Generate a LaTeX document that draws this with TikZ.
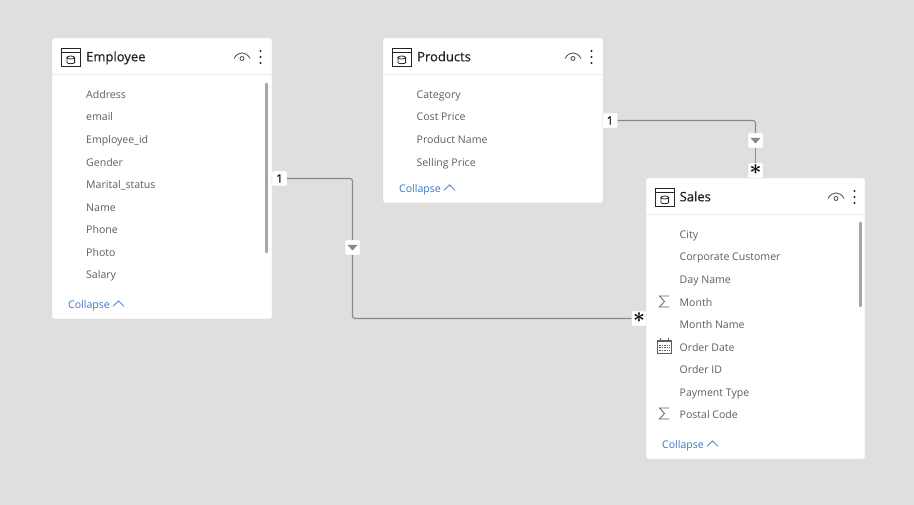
\documentclass[tikz,border=0pt]{standalone}
\usepackage{fontspec}
\setmainfont{Open Sans}
\newfontfamily\titlefont{Open Sans}[RawFeature={embolden=0.5}]
\newfontfamily\markfont{Open Sans}[RawFeature={embolden=0.4}]
\definecolor{pagebg}{HTML}{E1DFDD}
\definecolor{cardedge}{HTML}{D9D7D5}
\definecolor{sepline}{HTML}{EDEBE9}
\definecolor{fieldtxt}{HTML}{605E5C}
\definecolor{titletxt}{HTML}{252423}
\definecolor{linkblue}{HTML}{3A76C9}
\definecolor{relline}{HTML}{8A8886}
\definecolor{scrollc}{HTML}{A8A6A4}
\tikzset{
  x=1pt,y=-1pt,
  card/.style={draw=cardedge,line width=.4pt,fill=white,rounded corners=1.5pt},
  titletext/.style={anchor=base west,inner sep=0,text=titletxt,font=\titlefont\fontsize{13}{15}\selectfont},
  fieldtext/.style={anchor=base west,inner sep=0,text=fieldtxt,font=\fontsize{10.55}{13}\selectfont},
  linktext/.style={anchor=base west,inner sep=0,text=linkblue,font=\fontsize{10.55}{13}\selectfont},
  relbox/.style={fill=white,draw=cardedge,line width=.3pt,rounded corners=1pt,minimum width=15pt,minimum height=15pt,inner sep=0,font=\markfont\fontsize{11.5}{12}\selectfont,text=black},
  starmark/.style={font=\fontsize{21}{21}\selectfont\boldmath},
  rel/.style={draw=relline,line width=1.1pt,rounded corners=2.5pt},
  iconline/.style={draw=titletxt,line width=.9pt},
  grayicon/.style={draw=fieldtxt,line width=.8pt},
  scrollbar/.style={draw=scrollc,line width=3pt,line cap=round},
}
% #1 prefix, #2 left, #3 top, #4 width, #5 height, #6 title, #7 field offset
\newcommand{\tablecard}[7]{%
  \draw[card] (#2,#3) rectangle (#2+#4,#3+#5);
  \draw[sepline,line width=.8pt] (#2,#3+36.5) -- (#2+#4,#3+36.5);
  % table icon
  \draw[iconline] (#2+9.5,#3+10.5) rectangle (#2+28,#3+28);
  \draw[iconline] (#2+9.5,#3+14.5) -- (#2+28,#3+14.5);
  \draw[iconline,line width=.8pt] (#2+15,#3+19.5) -- (#2+15,#3+24.5) arc[start angle=180,end angle=360,x radius=3.8,y radius=-1.2] -- (#2+22.6,#3+19.5);
  \draw[iconline,line width=.8pt] (#2+18.8,#3+19.5) ellipse[x radius=3.8,y radius=1.5];
  \node[titletext] (#1-title) at (#2+#7,#3+23.3) {#6};
  % eye
  \draw[grayicon,draw=titletxt!85] (#2+182,#3+20.5) .. controls (#2+186,#3+13) and (#2+194,#3+13) .. (#2+198,#3+20.5);
  \draw[grayicon,draw=titletxt!85] (#2+190,#3+20.5) circle[radius=2];
  % dots
  \foreach \d in {13,19,25} \fill[titletxt] (#2+208.5,#3+\d) circle[radius=1.15];
}
\newcommand{\collapse}[3]{%
  \node[linktext] (#1) at (#2,#3) {Collapse};
  \draw[linkblue,line width=.7pt] (#1.base east)++(3,-2) -- ++(5.5,-5.5) -- ++(5.5,5.5);
}
\begin{document}
\begin{tikzpicture}
\fill[pagebg] (0,0) rectangle (914,505);

% Employee
\tablecard{emp}{52}{38}{220}{281}{Employee}{34}
\foreach \t [count=\i] in {Address,email,Employee\_id,Gender,Marital\_status,Name,Phone,Photo,Salary}
  \node[fieldtext] (emp-f\i) at (86,{98.4+(\i-1)*22.55}) {\t};
\draw[scrollbar] (266,84) -- (266,252);
\collapse{emp-collapse}{68}{308.4}

% Products
\tablecard{prod}{383}{38}{220}{165}{Products}{34}
\foreach \t [count=\i] in {Category,Cost Price,Product Name,Selling Price}
  \node[fieldtext] (prod-f\i) at (416.5,{98.4+(\i-1)*22.55}) {\t};
\collapse{prod-collapse}{399}{192.4}

% Sales
\tablecard{sales}{646}{178}{219}{281}{Sales}{33.5}
\foreach \t [count=\i] in {City,Corporate Customer,Day Name,Month,Month Name,Order Date,Order ID,Payment Type,Postal Code}
  \node[fieldtext] (sales-f\i) at (679.5,{238.4+(\i-1)*22.55}) {\t};
\draw[scrollbar] (860,223) -- (860,306);
\collapse{sales-collapse}{662}{448.4}
% sigma icons
\draw[grayicon,line join=miter] (669,296) -- (659.5,296) -- (664.5,301.5) -- (659.5,307) -- (669,307);
\draw[grayicon,line join=miter] (669,408) -- (659.5,408) -- (664.5,413.5) -- (659.5,419) -- (669,419);
% calendar icon
\draw[grayicon] (657,340) rectangle (671.5,353);
\draw[grayicon,line width=1.4pt] (657,341) -- (671.5,341);
\draw[grayicon] (660,338.5) -- (660,341) (668.5,338.5) -- (668.5,341);
\foreach \yy in {345,347.5,350} \draw[fieldtxt,line width=.9pt,dash pattern=on 1.5pt off 1pt] (659,\yy) -- (670,\yy);

% relationship markers
\node[relbox] (one-emp) at (279.5,178.5) {1};
\node[relbox] (filter-emp) at (352.5,247.5) {};
\node[relbox,starmark] (many-emp) at (639,318.5) {\raisebox{1pt}{$\ast$}};
\node[relbox] (one-prod) at (610,120.5) {1};
\node[relbox] (filter-prod) at (755.5,140.5) {};
\node[relbox,starmark] (many-prod) at (755.5,170.5) {\raisebox{1pt}{$\ast$}};
\fill[relline] (347.5,245) -- (357.5,245) -- (352.5,250.5) -- cycle;
\fill[relline] (750.5,138) -- (760.5,138) -- (755.5,143.5) -- cycle;

\draw[rel] (one-emp.east) -| (filter-emp.north);
\draw[rel] (filter-emp.south) |- (many-emp.west);
\draw[rel] (one-prod.east) -| (filter-prod.north);
\draw[rel] (filter-prod.south) -- (many-prod.north);
\end{tikzpicture}
\end{document}
